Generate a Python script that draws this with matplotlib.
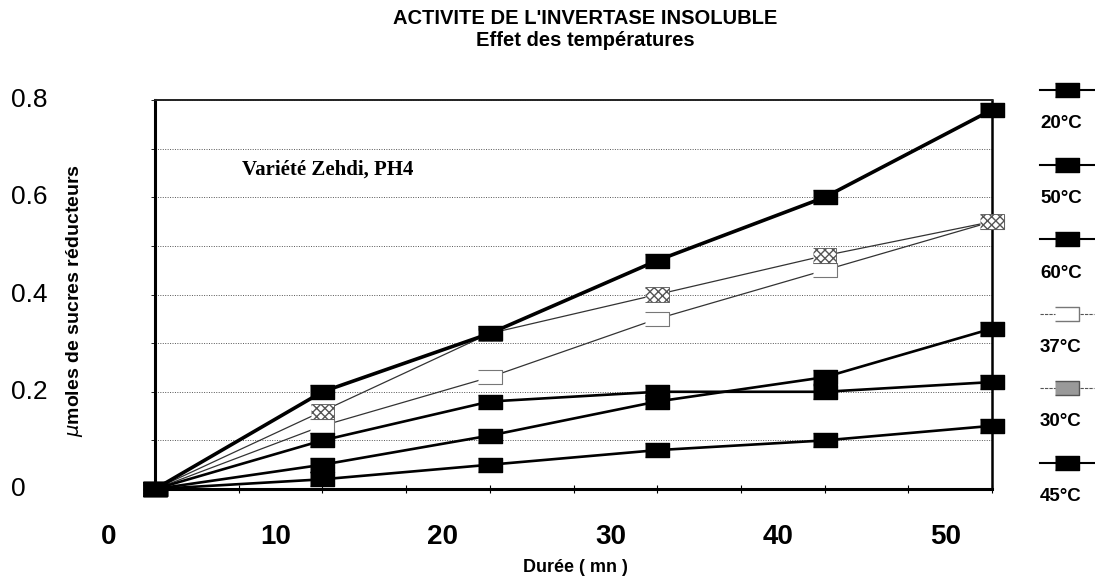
import matplotlib.pyplot as plt
from matplotlib.lines import Line2D
import numpy as np

# durées (mn) et sucres réducteurs (µmoles)
durees = [3, 13, 23, 33, 43, 53]
temp_labels = ['20°C', '50°C', '60°C', '37°C', '30°C', '45°C']
v20 = [0.0, 0.10, 0.18, 0.20, 0.20, 0.22]
v50 = [0.0, 0.05, 0.11, 0.18, 0.23, 0.33]
v60 = [0.0, 0.02, 0.05, 0.08, 0.10, 0.13]
v37 = [0.0, 0.13, 0.23, 0.35, 0.45, 0.55]
v30 = [0.0, 0.16, 0.32, 0.40, 0.48, 0.55]
v45 = [0.0, 0.20, 0.32, 0.47, 0.60, 0.78]
x_labels = [0, 10, 20, 30, 40, 50]
y_labels = [0, 0.2, 0.4, 0.6, 0.8]

plt.rcParams['font.family'] = ['Liberation Sans', 'DejaVu Sans']

rect = [(-1.6, -1), (1.6, -1), (1.6, 1), (-1.6, 1)]

fig = plt.figure(figsize=(10.95, 5.81), dpi=100)
ax = fig.add_axes([0.1416, 0.1583, 0.7644, 0.6695])

# 37°C : carré blanc
ax.plot(durees, v37, color='#333333', lw=0.9, marker=rect, ms=17,
        mfc='white', mec='#777777', mew=0.8, zorder=3, clip_on=False)
# 30°C : carré hachuré
ax.plot(durees, v30, color='#333333', lw=0.9, zorder=3, clip_on=False)
ax.scatter(durees, v30, marker=rect, s=290, facecolor='white',
           edgecolor='#555555', hatch='xxxx', lw=0.6, zorder=4,
           clip_on=False)
# séries noires
for vals, lw in [(v20, 1.9), (v50, 1.9), (v60, 1.9), (v45, 2.6)]:
    ax.plot(durees, vals, color='black', lw=lw, marker=rect, ms=17,
            mfc='black', mec='black', zorder=5, clip_on=False)

ax.set_xlim(3, 53)
ax.set_ylim(0, 0.8)
ax.set_xticks(np.arange(3, 54, 5))
ax.set_xticklabels([])
ax.set_yticks(np.arange(0, 0.81, 0.1))
ax.set_yticklabels([])
ax.tick_params(axis='x', direction='inout', length=6, width=0.8)
ax.tick_params(axis='y', direction='out', length=3, width=0.6)
ax.grid(axis='y', color='#555555', ls=(0, (1, 1.5)), lw=0.7)

for s in ['left', 'bottom']:
    ax.spines[s].set_linewidth(2.2)
ax.spines['right'].set_linewidth(1.8)
ax.spines['top'].set_linewidth(1.4)
ax.spines['top'].set_color('#222222')

# étiquettes d'axes
for v in x_labels:
    ax.text(v + 0.2, -0.123, str(v), transform=ax.get_xaxis_transform(),
            ha='center', va='center', fontsize=20, fontweight='bold',
            clip_on=False)
for v in y_labels:
    ax.text(-0.172, v, f'{v:g}', transform=ax.get_yaxis_transform(),
            ha='left', va='center', fontsize=19, clip_on=False)

fig.text(575 / 1095, 1 - 568 / 581, 'Durée ( mn )', ha='center',
         va='center', fontsize=13, fontweight='bold')
fig.text(75 / 1095, 1 - 301 / 581, r'$\mu$moles de sucres réducteurs',
         rotation=90, ha='center', va='center', fontsize=14,
         fontweight='bold')

fig.text(585 / 1095, 1 - 18 / 581, "ACTIVITE DE L'INVERTASE INSOLUBLE",
         ha='center', va='center', fontsize=14.5, fontweight='bold')
fig.text(585 / 1095, 1 - 41 / 581, 'Effet des températures',
         ha='center', va='center', fontsize=14.5, fontweight='bold')

fig.text(242 / 1095, 1 - 170 / 581, 'Variété Zehdi, PH4', ha='left',
         va='center', fontsize=15, fontweight='bold',
         family='Liberation Serif')

# légende à droite
styles = [
    dict(color='black', lw=1.5, ls='-', mfc='black', mec='black'),
    dict(color='black', lw=1.5, ls='-', mfc='black', mec='black'),
    dict(color='black', lw=1.5, ls='-', mfc='black', mec='black'),
    dict(color='#555555', lw=0.8, ls=(0, (3, 1)), mfc='white', mec='#777777'),
    dict(color='#555555', lw=0.8, ls=(0, (3, 1)), mfc='#999999', mec='#555555'),
    dict(color='black', lw=1.5, ls='-', mfc='black', mec='black'),
]
for i, (lab, st) in enumerate(zip(temp_labels, styles)):
    yl = 1 - (90 + 74.5 * i) / 581
    yt = 1 - (124 + 74.5 * i) / 581
    fig.add_artist(Line2D([1040 / 1095, 1094 / 1095], [yl, yl],
                          transform=fig.transFigure, color=st['color'],
                          lw=st['lw'], ls=st['ls']))
    fig.add_artist(Line2D([1067 / 1095], [yl], transform=fig.transFigure,
                          marker=rect, ms=17, ls='none',
                          mfc=st['mfc'], mec=st['mec']))
    fig.text(1040 / 1095, yt, lab, ha='left', va='center', fontsize=13.5,
             fontweight='bold')

fig.savefig('out.png', dpi=100)
